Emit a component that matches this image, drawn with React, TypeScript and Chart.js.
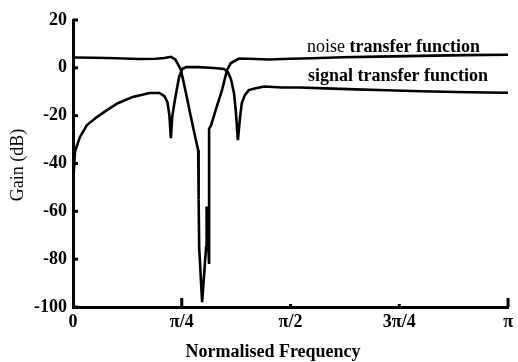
import React, { useEffect, useRef } from "react";
import { Chart, registerables } from "chart.js";

Chart.register(...registerables);

// x values are fractions of π (normalised frequency / π)
const xTickValues = [0, 0.25, 0.5, 0.75, 1];
const xTickLabels = ["0", "π/4", "π/2", "3π/4", "π"];
const yTickValues = [20, 0, -20, -40, -60, -80, -100];

// Noise transfer function (dB)
const ntfX = [0, 0.05, 0.1, 0.15, 0.19, 0.21, 0.225, 0.235, 0.2443, 0.2482, 0.2596, 0.271, 0.2824, 0.2877, 0.2888, 0.29, 0.2968, 0.3037, 0.3059, 0.3071, 0.3128, 0.3128, 0.3174, 0.3281, 0.3425, 0.3539, 0.363, 0.3813, 0.4041, 0.45, 0.5, 0.55, 0.62, 0.7, 0.8, 0.9, 1.0];
const ntfY = [4.3, 4.2, 4.0, 3.7, 3.8, 4.1, 4.6, 3.5, 0.5, -1.0, -10.5, -20.6, -30.2, -34.4, -55, -75, -98, -80.5, -75, -58, -82, -25.5, -24, -17.6, -9.3, -1.0, 2.0, 3.9, 3.8, 3.5, 3.8, 4.0, 4.4, 4.7, 5.0, 5.3, 5.5];

// Signal transfer function (dB)
const stfX = [0, 0.001, 0.0046, 0.016, 0.032, 0.055, 0.078, 0.103, 0.137, 0.176, 0.199, 0.21, 0.217, 0.2215, 0.225, 0.228, 0.233, 0.237, 0.244, 0.251, 0.26, 0.29, 0.324, 0.347, 0.356, 0.363, 0.37, 0.374, 0.379, 0.384, 0.388, 0.395, 0.404, 0.42, 0.44, 0.48, 0.52, 0.58, 0.65, 0.72, 0.8, 0.88, 0.95, 1.0];
const stfY = [-65, -46, -35, -28.9, -23.9, -20.6, -17.7, -14.8, -12.2, -10.5, -10.5, -11.8, -14.3, -19.7, -29.4, -20.6, -14.7, -10.5, -3.8, -0.5, 0.3, 0.3, -0.1, -0.5, -1.8, -4.7, -10.5, -17.7, -30.2, -20.6, -14.7, -11.4, -9.3, -8.5, -7.8, -8.2, -8.2, -8.6, -9.0, -9.4, -9.8, -10.1, -10.3, -10.4];

const SERIF = '"Liberation Serif", "Times New Roman", serif';

const decorPlugin = {
  id: "decor",
  afterDraw(chart: any) {
    const { ctx, chartArea, scales } = chart;
    ctx.save();
    ctx.strokeStyle = "#000";
    ctx.lineWidth = 3;
    ctx.lineCap = "butt";
    // y tick marks pointing inward
    for (const v of yTickValues) {
      const y = scales.y.getPixelForValue(v);
      ctx.beginPath();
      ctx.moveTo(chartArea.left, y);
      ctx.lineTo(chartArea.left + 5, y);
      ctx.stroke();
    }
    // x tick marks pointing inward
    xTickValues.forEach((v, i) => {
      if (i === 0) return;
      const x = scales.x.getPixelForValue(v);
      const len = i === 1 || i === 4 ? 9 : 3;
      ctx.beginPath();
      ctx.moveTo(x, chartArea.bottom);
      ctx.lineTo(x, chartArea.bottom - len);
      ctx.stroke();
    });

    ctx.fillStyle = "#000";
    ctx.textBaseline = "alphabetic";
    ctx.textAlign = "left";
    // annotations
    ctx.font = `18px ${SERIF}`;
    const noise = "noise ";
    ctx.fillText(noise, 307, 52);
    const w = ctx.measureText(noise).width;
    ctx.font = `bold 18px ${SERIF}`;
    ctx.fillText("transfer function", 307 + w, 52);
    ctx.fillText("signal transfer function", 308, 81);

    // axis titles
    ctx.textAlign = "center";
    ctx.font = `bold 18px ${SERIF}`;
    ctx.fillText("Normalised Frequency", 273, 357);
    ctx.save();
    ctx.translate(23, 165);
    ctx.rotate(-Math.PI / 2);
    ctx.font = `18px ${SERIF}`;
    ctx.fillText("Gain (dB)", 0, 0);
    ctx.restore();
    ctx.restore();
  },
};

export default function App() {
  const ref = useRef<HTMLCanvasElement | null>(null);
  useEffect(() => {
    if (!ref.current) return;
    const chart = new Chart(ref.current, {
      type: "line",
      data: {
        datasets: [
          {
            label: "noise transfer function",
            data: ntfX.map((x, i) => ({ x, y: ntfY[i] })),
            borderColor: "#000",
            borderWidth: 2.6,
            pointRadius: 0,
            tension: 0,
            fill: false,
          },
          {
            label: "signal transfer function",
            data: stfX.map((x, i) => ({ x, y: stfY[i] })),
            borderColor: "#000",
            borderWidth: 2.6,
            pointRadius: 0,
            tension: 0,
            fill: false,
          },
        ],
      },
      options: {
        animation: false,
        responsive: true,
        maintainAspectRatio: false,
        layout: { padding: { top: 20, right: 7, left: 0, bottom: 0 } },
        plugins: { legend: { display: false }, tooltip: { enabled: false } },
        scales: {
          x: {
            type: "linear",
            min: 0,
            max: 1,
            afterFit: (s: any) => { s.height = 55; },
            afterBuildTicks: (s: any) => { s.ticks = xTickValues.map((v) => ({ value: v })); },
            grid: { display: true, drawOnChartArea: false, drawTicks: false },
            border: { display: true, color: "#000", width: 3 },
            ticks: {
              color: "#000",
              padding: 5,
              maxRotation: 0,
              autoSkip: false,
              font: { family: SERIF, size: 18, weight: "bold" },
              callback: (v: any) => {
                const i = xTickValues.findIndex((t) => Math.abs(t - Number(v)) < 1e-9);
                return i >= 0 ? xTickLabels[i] : "";
              },
            },
          },
          y: {
            type: "linear",
            min: -100,
            max: 20,
            afterFit: (s: any) => { s.width = 73; },
            afterBuildTicks: (s: any) => { s.ticks = yTickValues.map((v) => ({ value: v })); },
            grid: { display: true, drawOnChartArea: false, drawTicks: false },
            border: { display: true, color: "#000", width: 3 },
            ticks: {
              color: "#000",
              padding: 6,
              font: { family: SERIF, size: 18, weight: "bold" },
              callback: (v: any) => String(v),
            },
          },
        },
      },
      plugins: [decorPlugin],
    });
    return () => chart.destroy();
  }, []);
  return (
    <div style={{ position: "fixed", left: 0, top: 0, width: 518, height: 362, background: "#fff" }}>
      <canvas ref={ref} />
    </div>
  );
}
